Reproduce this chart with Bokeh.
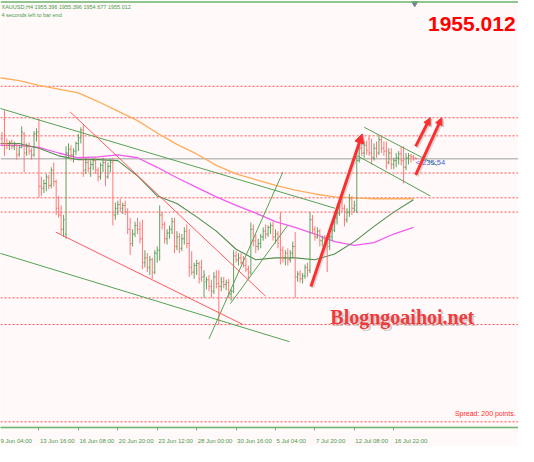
from bokeh.plotting import figure
from bokeh.models import (Range1d, LinearAxis, FixedTicker, Span, Arrow, NormalHead,
                          ColumnDataSource)
from bokeh.core.properties import value
from bokeh.embed import file_html
from bokeh.resources import INLINE

# ---------------- data (XAUUSD H4) ----------------
symbol = "XAUUSD,H4"
bar_open = [
    1961.4, 1963.4, 1971.4, 1961.4, 1960.6, 1961.8, 1960.2, 1960.6, 1957.0, 1959.8,
    1965.4, 1957.4, 1960.2, 1958.2, 1956.6, 1965.4, 1966.2, 1943.4, 1942.6, 1944.6,
    1947.0, 1943.8, 1950.2, 1945.4, 1934.2, 1931.4, 1925.4, 1923.4, 1957.4, 1959.0,
    1956.6, 1958.2, 1961.4, 1963.8, 1967.0, 1950.2, 1953.4, 1951.0, 1952.6, 1954.2,
    1950.2, 1947.4, 1952.2, 1953.4, 1947.4, 1951.8, 1953.4, 1931.4, 1934.2, 1935.8,
    1934.2, 1935.4, 1932.6, 1925.4, 1919.4, 1923.4, 1927.0, 1925.4, 1921.4, 1911.4,
    1913.4, 1909.4, 1912.6, 1907.4, 1915.4, 1916.6, 1931.4, 1927.4, 1921.4, 1923.8,
    1925.4, 1928.6, 1918.2, 1922.2, 1917.4, 1921.4, 1924.6, 1919.4, 1909.4, 1907.4,
    1910.2, 1911.0, 1909.4, 1905.4, 1903.4, 1904.2, 1901.4, 1899.4, 1905.4, 1902.6,
    1901.4, 1903.4, 1902.2, 1903.0, 1898.2, 1899.4, 1914.2, 1912.6, 1913.4, 1911.4,
    1910.2, 1908.6, 1907.4, 1925.4, 1920.6, 1918.2, 1919.4, 1922.2, 1924.6, 1923.4,
    1926.2, 1927.0, 1922.2, 1923.4, 1930.2, 1916.6, 1913.4, 1915.4, 1912.6, 1915.4,
    1918.2, 1905.4, 1906.6, 1904.6, 1905.8, 1909.4, 1908.2, 1929.4, 1925.4, 1922.2,
    1924.6, 1920.6, 1921.4, 1919.0, 1918.2, 1922.2, 1925.0, 1930.2, 1932.2, 1936.6,
    1934.2, 1929.4, 1932.6, 1938.2, 1934.2, 1933.4, 1954.2, 1959.4, 1957.4, 1960.6,
    1963.4, 1957.4, 1955.4, 1959.4, 1957.4, 1963.0, 1959.4, 1958.2, 1953.4, 1957.4,
    1952.6, 1954.2, 1955.4, 1957.0, 1954.2, 1951.4, 1955.4, 1956.2, 1955.8, 1955.396,
]
bar_high = [
    1965.4, 1966.2, 1975.4, 1963.4, 1962.6, 1963.0, 1962.2, 1961.4, 1960.6, 1968.6,
    1966.2, 1961.4, 1961.8, 1959.4, 1966.6, 1967.8, 1971.8, 1947.4, 1946.2, 1948.6,
    1948.2, 1951.4, 1953.4, 1946.2, 1939.4, 1935.4, 1931.4, 1960.2, 1961.4, 1960.6,
    1959.4, 1962.2, 1965.4, 1968.2, 1969.4, 1955.4, 1955.4, 1954.2, 1955.4, 1955.8,
    1951.4, 1953.4, 1955.4, 1955.0, 1953.4, 1955.0, 1955.4, 1936.6, 1937.4, 1938.2,
    1936.6, 1937.4, 1934.2, 1930.2, 1925.4, 1928.6, 1930.2, 1928.6, 1929.4, 1916.6,
    1915.4, 1914.2, 1913.4, 1916.6, 1918.2, 1935.4, 1932.6, 1928.6, 1925.4, 1927.0,
    1930.2, 1930.2, 1924.6, 1923.8, 1923.4, 1926.2, 1927.4, 1925.4, 1916.2, 1911.4,
    1912.6, 1911.8, 1912.6, 1908.2, 1905.4, 1906.2, 1904.2, 1907.4, 1908.2, 1908.2,
    1905.4, 1905.4, 1904.2, 1904.6, 1900.2, 1916.6, 1916.2, 1915.4, 1915.4, 1914.2,
    1913.4, 1910.2, 1928.2, 1927.4, 1923.4, 1921.4, 1923.4, 1926.2, 1927.4, 1927.0,
    1928.2, 1928.6, 1925.4, 1924.6, 1932.6, 1918.2, 1916.6, 1917.4, 1916.6, 1920.2,
    1924.2, 1907.8, 1908.2, 1907.0, 1910.6, 1911.4, 1932.6, 1931.4, 1926.6, 1926.2,
    1925.4, 1922.6, 1923.0, 1921.4, 1923.4, 1926.2, 1931.4, 1933.4, 1938.6, 1939.4,
    1935.8, 1934.2, 1940.2, 1939.4, 1937.4, 1956.2, 1961.4, 1964.6, 1962.2, 1962.6,
    1964.6, 1963.4, 1961.4, 1962.2, 1964.6, 1964.2, 1962.2, 1962.2, 1959.4, 1959.4,
    1955.4, 1957.4, 1958.2, 1960.2, 1960.2, 1957.4, 1957.4, 1957.0, 1956.6, 1955.396,
]
bar_low = [
    1959.4, 1960.2, 1956.2, 1959.0, 1958.6, 1959.0, 1958.6, 1954.6, 1955.8, 1959.4,
    1949.4, 1956.2, 1956.6, 1954.6, 1955.8, 1962.2, 1938.6, 1939.4, 1940.6, 1941.4,
    1942.2, 1942.6, 1943.4, 1931.4, 1930.2, 1923.4, 1922.2, 1921.4, 1955.0, 1954.2,
    1953.4, 1956.6, 1958.2, 1961.4, 1947.4, 1948.6, 1949.4, 1947.4, 1950.2, 1948.6,
    1945.4, 1946.2, 1949.4, 1943.4, 1946.6, 1949.4, 1927.0, 1929.4, 1931.4, 1932.6,
    1931.8, 1931.4, 1923.4, 1914.6, 1918.2, 1922.2, 1923.4, 1919.4, 1908.6, 1909.4,
    1907.4, 1906.2, 1904.6, 1906.6, 1911.4, 1912.2, 1925.4, 1919.4, 1919.0, 1921.4,
    1923.4, 1915.4, 1916.6, 1915.4, 1916.2, 1919.0, 1917.4, 1905.4, 1906.2, 1904.6,
    1906.2, 1902.6, 1903.4, 1896.6, 1900.2, 1899.4, 1896.6, 1898.2, 1900.6, 1885.4,
    1899.4, 1900.6, 1899.8, 1896.6, 1895.4, 1898.6, 1911.4, 1910.2, 1910.6, 1909.4,
    1907.4, 1904.6, 1906.2, 1918.2, 1915.4, 1916.6, 1917.4, 1920.6, 1921.4, 1922.2,
    1923.4, 1920.6, 1919.4, 1917.4, 1910.6, 1911.4, 1910.2, 1910.2, 1911.4, 1913.4,
    1896.6, 1903.4, 1903.0, 1902.6, 1904.6, 1905.4, 1907.0, 1923.4, 1920.6, 1921.4,
    1918.2, 1918.2, 1917.4, 1907.4, 1916.6, 1920.6, 1924.2, 1927.4, 1931.0, 1932.6,
    1926.6, 1928.2, 1930.6, 1931.4, 1932.6, 1932.2, 1953.4, 1956.2, 1955.4, 1956.6,
    1956.2, 1952.6, 1954.2, 1955.4, 1956.6, 1957.4, 1956.2, 1950.6, 1952.6, 1950.6,
    1950.6, 1951.4, 1952.6, 1952.2, 1944.6, 1950.2, 1952.6, 1953.4, 1954.2, 1954.677,
]
bar_close = [
    1963.4, 1961.4, 1961.4, 1960.6, 1961.8, 1960.2, 1961.0, 1956.6, 1959.8, 1966.2,
    1957.4, 1960.2, 1958.2, 1956.6, 1965.4, 1966.2, 1943.4, 1942.6, 1944.6, 1947.4,
    1943.8, 1950.2, 1945.4, 1934.2, 1931.4, 1925.4, 1929.4, 1957.4, 1959.0, 1956.6,
    1958.2, 1961.4, 1963.8, 1967.0, 1950.2, 1953.4, 1951.0, 1952.6, 1954.2, 1950.2,
    1947.4, 1952.2, 1953.4, 1947.4, 1951.8, 1953.4, 1931.4, 1934.2, 1935.8, 1934.2,
    1935.4, 1932.6, 1925.4, 1919.4, 1923.4, 1927.0, 1925.4, 1921.4, 1911.4, 1913.4,
    1909.4, 1912.6, 1907.4, 1915.4, 1916.6, 1931.4, 1927.4, 1921.4, 1923.8, 1925.4,
    1928.6, 1918.2, 1922.2, 1917.4, 1921.4, 1924.6, 1919.4, 1909.4, 1907.4, 1910.2,
    1911.0, 1904.6, 1905.4, 1906.2, 1904.2, 1901.4, 1899.4, 1905.4, 1902.6, 1901.4,
    1903.4, 1902.2, 1903.0, 1898.2, 1899.4, 1914.2, 1912.6, 1913.4, 1911.4, 1910.2,
    1908.6, 1907.4, 1925.4, 1920.6, 1918.2, 1919.4, 1922.2, 1924.6, 1923.4, 1926.2,
    1927.0, 1922.2, 1923.4, 1919.4, 1916.6, 1913.4, 1915.4, 1912.6, 1915.4, 1918.2,
    1905.4, 1906.6, 1904.6, 1905.8, 1909.4, 1908.2, 1929.4, 1925.4, 1922.2, 1924.6,
    1920.6, 1921.4, 1919.0, 1918.2, 1922.2, 1925.0, 1930.2, 1932.2, 1936.6, 1934.2,
    1929.4, 1932.6, 1938.2, 1934.2, 1935.4, 1954.2, 1959.4, 1957.4, 1960.6, 1958.6,
    1957.4, 1955.4, 1959.4, 1957.4, 1963.0, 1959.4, 1958.2, 1953.4, 1957.4, 1952.6,
    1954.2, 1955.4, 1957.0, 1954.2, 1951.4, 1955.4, 1956.2, 1955.8, 1955.0, 1955.012,
]

# moving averages sampled every 8 bars
ma_bars = list(range(0, 169, 8))
ma_slow = [1989.0, 1987.8, 1985.8, 1984.2, 1982.6, 1979.0, 1975.0, 1971.0, 1965.8, 1961.0, 1957.0,
           1952.2, 1948.6, 1946.2, 1943.8, 1941.8, 1940.2, 1939.0, 1938.6, 1938.2, 1938.2, 1938.2]
ma_mid = [1960.6, 1960.6, 1959.8, 1957.4, 1955.4, 1955.8, 1956.6, 1955.4, 1951.4, 1947.0, 1943.0,
          1939.0, 1935.4, 1932.2, 1928.6, 1926.2, 1923.4, 1920.2, 1918.6, 1919.8, 1923.4, 1926.2]
ma_fast = [1961.4, 1961.4, 1959.4, 1956.2, 1954.6, 1954.6, 1954.2, 1947.8, 1939.4, 1936.2, 1930.6,
           1924.6, 1917.0, 1912.6, 1913.4, 1913.4, 1912.6, 1915.0, 1920.2, 1926.6, 1932.6, 1937.8]

level_prices = [1985.4, 1972.2, 1964.6, 1949.0, 1938.6, 1932.6, 1896.6, 1885.4, 1844.6]
bid_price = 1955.012

tick_bars = [0, 16, 32, 48, 64, 80, 96, 112, 128, 144, 160]
tick_labels = ["9 Jun 04:00", "13 Jun 16:00", "16 Jun 08:00", "20 Jun 20:00", "23 Jun 12:00",
               "28 Jun 00:00", "30 Jun 16:00", "5 Jul 04:00", "7 Jul 20:00", "12 Jul 08:00",
               "16 Jul 22:00"]

# drawn objects: (bar0, price0, bar1, price1)
green_trend = [(0.0, 1976.2, 136.2, 1934.2), (0.0, 1915.4, 117.7, 1878.2),
               (85.0, 1879.4, 115.0, 1949.4), (93.7, 1894.2, 116.9, 1927.0),
               (148.0, 1968.2, 177.6, 1952.2), (145.3, 1956.2, 174.8, 1939.4)]
red_trend = [(28.7, 1974.6, 107.9, 1897.4), (22.8, 1924.2, 98.8, 1885.4)]
arrow_lines = [(126.4, 1901.4, 147.2, 1965.4, 9), (168.9, 1960.2, 174.8, 1972.2, 7),
               (168.9, 1948.2, 179.5, 1972.2, 7)]

header_ohlc = "1955.396 1955.396 1954.677 1955.012"
header_timer = "4 seconds left to bar end"
bid_text = "1955.012"
spread_text = "Spread: 200 points."
time_tag = "< 235:54"
watermark = "Blogngoaihoi.net"

# ---------------- layout helpers (reference pixels -> data) ----------------
PX_PER_BAR = 2.54
X_OFF = -1.0
PRICE_TOP = 2021.4
PX_PER_USD = 2.5


def xd(px):
    return (px - X_OFF) / PX_PER_BAR


def yd(py):
    return PRICE_TOP - py / PX_PER_USD


BG = "#fff9f9"
UP = "#4f9a4f"
DN = "#ff6b6b"
AXIS = "#6cb46c"
TXT_GREEN = "#4a9a4a"
ARROW = "#ff2e2e"

p = figure(width=518, height=446,
           x_range=Range1d(xd(0), xd(534)), y_range=Range1d(yd(448), yd(0)),
           x_axis_type=None, y_axis_type=None,
           output_backend="svg", toolbar_location=None,
           min_border=0, background_fill_color=BG, border_fill_color=BG,
           outline_line_color=None)

# levels and bid line
for lv in level_prices:
    p.add_layout(Span(location=lv, dimension="width", line_color="#ff5050",
                      line_dash="2 2", line_width=1, level="underlay"))
p.add_layout(Span(location=bid_price, dimension="width", line_color="#bdbdbd",
                  line_width=1.5, level="underlay"))
p.add_layout(Span(location=yd(1.5), dimension="width", line_color=AXIS, line_width=1.5))

# moving averages
p.line(ma_bars, ma_slow, line_color="#ffad5c", line_width=1.3)
p.line(ma_bars, ma_mid, line_color="#f25cf2", line_width=1.3)
p.line(ma_bars, ma_fast, line_color="#4d8f4d", line_width=1.1)

# OHLC bars
n = len(bar_open)
idx = list(range(n))
colors = [UP if c >= o else DN for o, c in zip(bar_open, bar_close)]
src = ColumnDataSource(dict(x=idx, xl=[i - 0.45 for i in idx], xr=[i + 0.45 for i in idx],
                            o=bar_open, h=bar_high, l=bar_low, c=bar_close, color=colors))
p.segment("x", "l", "x", "h", source=src, line_color="color", line_width=1, line_alpha=0.9)
p.segment("xl", "o", "x", "o", source=src, line_color="color", line_width=1, line_alpha=0.9)
p.segment("x", "c", "xr", "c", source=src, line_color="color", line_width=1, line_alpha=0.9)

# trend lines
p.segment([g[0] for g in green_trend], [g[1] for g in green_trend],
          [g[2] for g in green_trend], [g[3] for g in green_trend],
          line_color="#53a353", line_width=1)
p.segment([r[0] for r in red_trend], [r[1] for r in red_trend],
          [r[2] for r in red_trend], [r[3] for r in red_trend],
          line_color="#ff5c5c", line_width=1)

# arrows (with soft shadow)
sx, sy = 1.5 / PX_PER_BAR, -1.5 / PX_PER_USD
for x0, y0, x1, y1, hs in arrow_lines:
    p.add_layout(Arrow(end=NormalHead(size=hs, fill_color="#999999", line_color="#999999",
                                      fill_alpha=0.35, line_alpha=0.35),
                       x_start=x0 + sx, y_start=y0 + sy, x_end=x1 + sx, y_end=y1 + sy,
                       line_color="#999999", line_alpha=0.35, line_width=3))
    p.add_layout(Arrow(end=NormalHead(size=hs, fill_color=ARROW, line_color=ARROW),
                       x_start=x0, y_start=y0, x_end=x1, y_end=y1,
                       line_color=ARROW, line_width=3))

# shift marker
p.scatter([xd(427)], [yd(3)], marker="inverted_triangle", size=6, color="#6f8490")

# texts
SANS = value("Liberation Sans")
p.text([xd(1)], [yd(6.5)], text=[symbol + "  " + header_ohlc], text_font=SANS,
       text_font_size=value("5.5px"), text_color=TXT_GREEN, text_baseline="middle")
p.text([xd(1)], [yd(15)], text=[header_timer], text_font=SANS,
       text_font_size=value("5.5px"), text_color=TXT_GREEN, text_baseline="middle")
p.text([xd(531)], [yd(25)], text=[bid_text], text_font=SANS, text_font_style="bold",
       text_font_size=value("21px"), text_color="#ff0000", text_align="right",
       text_baseline="alphabetic")
p.text([xd(531)], [yd(433)], text=[spread_text], text_font=SANS,
       text_font_size=value("7px"), text_color="#ff2b2b", text_align="right",
       text_baseline="alphabetic")
p.text([xd(428)], [yd(170)], text=[time_tag], text_font=SANS,
       text_font_size=value("7.5px"), text_color="#3f5fd8", text_baseline="middle")
SERIF = value("Liberation Serif")
p.text([xd(342)], [yd(334)], text=[watermark], text_font=SERIF, text_font_style="bold",
       text_font_size=value("20px"), text_color="#a09090", text_alpha=0.45,
       text_baseline="alphabetic")
p.text([xd(340)], [yd(332)], text=[watermark], text_font=SERIF, text_font_style="bold",
       text_font_size=value("20px"), text_color="#ee3b3b", text_baseline="alphabetic")

# bottom axis: tick marks axis + left-aligned date labels
tick_axis = LinearAxis(ticker=FixedTicker(ticks=tick_bars),
                       major_label_overrides={t: "" for t in tick_bars},
                       major_label_text_font_size="1px", major_label_standoff=0,
                       axis_line_color=AXIS, axis_line_width=1.5,
                       major_tick_line_color=AXIS, major_tick_in=0, major_tick_out=3,
                       minor_tick_line_color=None)
p.add_layout(tick_axis, "below")

CW = {" ": 0.278, ":": 0.278, "J": 0.5, "l": 0.222}


def label_center(bar, text, font_px=6.2):
    w = sum(CW.get(ch, 0.556) for ch in text) * font_px
    return round(bar + (w / 2 + 1) / PX_PER_BAR, 3)


centers = [label_center(b, t) for b, t in zip(tick_bars, tick_labels)]
label_axis = LinearAxis(ticker=FixedTicker(ticks=centers),
                        major_label_overrides=dict(zip(centers, tick_labels)),
                        major_label_text_font_size="6px", major_label_text_font="Liberation Sans",
                        major_label_text_color=TXT_GREEN, major_label_standoff=1,
                        axis_line_color=None, major_tick_line_color=None,
                        minor_tick_line_color=None)
p.add_layout(label_axis, "below")

open("out.html", "w").write(file_html(p, INLINE))
